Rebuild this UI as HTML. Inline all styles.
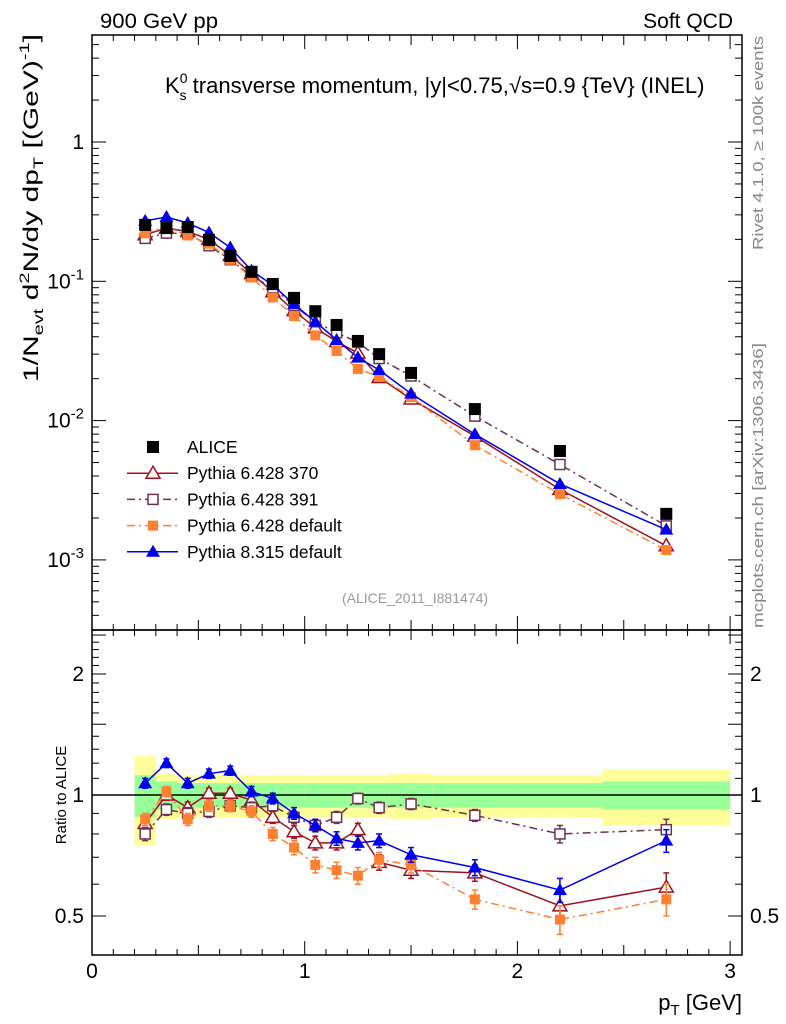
<!DOCTYPE html>
<html><head><meta charset="utf-8"><style>
body{margin:0;background:#fff}
svg{display:block;font-family:"Liberation Sans",sans-serif}
</style></head><body>
<svg id="c" width="786" height="1024" viewBox="0 0 786 1024">
<text x="100" y="28" font-size="21" textLength="118" lengthAdjust="spacingAndGlyphs">900 GeV pp</text>
<text x="733" y="28" font-size="21" text-anchor="end">Soft QCD</text>
<text x="165" y="93" font-size="22">K<tspan font-size="14" dy="-10">0</tspan><tspan font-size="14" dx="-8" dy="17">s</tspan><tspan dy="-7" textLength="518" lengthAdjust="spacingAndGlyphs"> transverse momentum, |y|&lt;0.75,√s=0.9 {TeV} (INEL)</tspan></text>
<text transform="translate(38,382) rotate(-90)" font-size="21" textLength="348" lengthAdjust="spacingAndGlyphs">1/N<tspan font-size="14" dy="5">evt</tspan><tspan dy="-5">  d</tspan><tspan font-size="14" dy="-9">2</tspan><tspan dy="9">N/dy dp</tspan><tspan font-size="14" dy="5">T</tspan><tspan dy="-5"> [(GeV)</tspan><tspan font-size="14" dy="-9">-1</tspan><tspan dy="9">]</tspan></text>
<text transform="translate(66,795) rotate(-90)" font-size="15" text-anchor="middle">Ratio to ALICE</text>
<text x="742" y="1010" font-size="22" text-anchor="end">p<tspan font-size="15" dy="5">T</tspan><tspan dy="-5"> [GeV]</tspan></text>
<text transform="translate(763,250) rotate(-90)" font-size="15" fill="#888" textLength="214" lengthAdjust="spacingAndGlyphs">Rivet 4.1.0, ≥ 100k events</text>
<text transform="translate(763,628) rotate(-90)" font-size="15" fill="#888" textLength="285" lengthAdjust="spacingAndGlyphs">mcplots.cern.ch [arXiv:1306.3436]</text>
<text x="415" y="603" font-size="14" fill="#999" text-anchor="middle">(ALICE_2011_I881474)</text>
<g id="g"></g>
</svg>
<script>
const xPts=[0.25,0.35,0.45,0.55,0.65,0.75,0.85,0.95,1.05,1.15,1.25,1.35,1.5,1.8,2.2,2.7];
const alice=[0.254,0.241,0.245,0.198,0.152,0.117,0.0957,0.076,0.061,0.0486,0.0373,0.030,0.022,0.0121,0.00605,0.00214];
const r370=[0.85,1.0,0.93,1.01,1.01,0.97,0.88,0.81,0.76,0.76,0.82,0.68,0.65,0.64,0.53,0.59];
const r391=[0.80,0.92,0.90,0.91,0.94,0.93,0.94,0.88,0.84,0.88,0.98,0.93,0.95,0.89,0.80,0.82];
const rDef6=[0.87,1.02,0.87,0.94,0.94,0.91,0.80,0.74,0.67,0.65,0.63,0.69,0.67,0.55,0.49,0.55];
const rP8=[1.07,1.20,1.07,1.13,1.15,1.02,0.98,0.90,0.84,0.78,0.76,0.77,0.71,0.66,0.58,0.77];
const binEdges=[0.2,0.3,0.4,0.5,0.6,0.7,0.8,0.9,1.0,1.1,1.2,1.3,1.4,1.6,2.0,2.4,3.0];
const bandYellow=[0.25,0.13,0.12,0.12,0.12,0.12,0.12,0.12,0.12,0.12,0.12,0.12,0.13,0.12,0.12,0.16];
const bandGreen=[0.12,0.08,0.07,0.07,0.07,0.07,0.07,0.07,0.07,0.07,0.07,0.07,0.07,0.07,0.07,0.08];
const ratioErr=[0.03,0.03,0.03,0.03,0.03,0.03,0.03,0.03,0.03,0.03,0.03,0.03,0.03,0.03,0.04,0.05];

const NS="http://www.w3.org/2000/svg";
const g=document.getElementById('g');
const L=92,R=742,T=35,M=630,B=955;
const sx=v=>L+v*212.7;
const sy=v=>142-Math.log10(v)*139.3;
const sr=v=>795-Math.log2(v)*121;
function el(t,a,p){const e=document.createElementNS(NS,t);for(const k in a)e.setAttribute(k,a[k]);(p||g).appendChild(e);return e;}

for(let i=0;i<bandYellow.length;i++){
  const x0=sx(binEdges[i]),x1=sx(binEdges[i+1]);
  const y=el('rect',{x:x0,y:sr(1+bandYellow[i]),width:x1-x0,height:sr(1-bandYellow[i])-sr(1+bandYellow[i]),fill:'#ffff99'});
  
  
  const gr=el('rect',{x:x0,y:sr(1+bandGreen[i]),width:x1-x0,height:sr(1-bandGreen[i])-sr(1+bandGreen[i]),fill:'#99ff99'});
  
  
}
const one=el('line',{x1:L,x2:R,y1:sr(1),y2:sr(1),stroke:'#000','stroke-width':1.5});



for(const [t,b,n] of [[T,M,'main-frame'],[M,B,'ratio-frame']]){
  const f=el('rect',{x:L,y:t,width:R-L,height:b-t,fill:'none',stroke:'#000','stroke-width':1.5});
  
  
}
for(let k=0;k<=30;k++){
  const v=k/10,x=sx(v);if(x>R)break;
  const len=k%10==0?14:(k%5==0?10:6);
  for(const [y0,dir] of [[T,1],[M,-1],[M,1],[B,-1]]) el('line',{x1:x,x2:x,y1:y0,y2:y0+dir*len,stroke:'#000'});
}
const xTicks=['0','1','2','3'];
xTicks.forEach((t,i)=>{const e=el('text',{x:sx(i),y:978,'font-size':21,'text-anchor':'middle'});e.textContent=t;

});
for(let d=-4;d<=0;d++){for(let m=1;m<10;m++){
  const v=m*Math.pow(10,d),y=sy(v);if(y<T||y>M)continue;
  const len=m==1?14:7;
  el('line',{x1:L,x2:L+len,y1:y,y2:y,stroke:'#000'});el('line',{x1:R,x2:R-len,y1:y,y2:y,stroke:'#000'});
}}
const yTicks=['10⁻³','10⁻²','10⁻¹','1'];
const yTickVals=[0.001,0.01,0.1,1];
yTicks.forEach((t,i)=>{const v=yTickVals[i];const e=el('text',{x:84,y:sy(v)+7,'font-size':21,'text-anchor':'end'});
if(v==1)e.textContent='1';else{e.innerHTML='10<tspan font-size="15" dy="-9">'+Math.log10(v)+'</tspan>';}

});
for(let k=4;k<=25;k++){const v=k/10,y=sr(v);if(y<M||y>B)continue;
  const len=(k%5==0)?14:7;
  el('line',{x1:L,x2:L+len,y1:y,y2:y,stroke:'#000'});el('line',{x1:R,x2:R-len,y1:y,y2:y,stroke:'#000'});}
const rTicks=['0.5','1','2'];const rTickVals=[0.5,1,2];
rTicks.forEach((t,i)=>{for(const [x,a] of [[84,'end'],[750,'start']]){const e=el('text',{x:x,y:sr(rTickVals[i])+7,'font-size':21,'text-anchor':a});e.textContent=t;

}});

function marker(type,x,y,col,p){
  if(type=='sq') return el('rect',{x:x-6,y:y-6,width:12,height:12,fill:'#000'},p);
  if(type=='osq') return el('rect',{x:x-5,y:y-5,width:10,height:10,fill:'#fff',stroke:col,'stroke-width':1.5},p);
  if(type=='fsq') return el('rect',{x:x-5,y:y-5,width:10,height:10,fill:col},p);
  if(type=='otri') return el('polygon',{points:`${x},${y-7} ${x-7},${y+5} ${x+7},${y+5}`,fill:'#fff',stroke:col,'stroke-width':1.5},p);
  return el('polygon',{points:`${x},${y-7} ${x-7},${y+5} ${x+7},${y+5}`,fill:col},p);
}
const series=[
 {name:'Pythia 6.428 370',r:r370,col:'#a01020',m:'otri',dash:'',key:'p6-370'},
 {name:'Pythia 6.428 391',r:r391,col:'#703050',m:'osq',dash:'8,4,2,4',key:'p6-391'},
 {name:'Pythia 6.428 default',r:rDef6,col:'#ff8030',m:'fsq',dash:'8,4,2,4',key:'p6-default'},
 {name:'Pythia 8.315 default',r:rP8,col:'#0000ee',m:'tri',dash:'',key:'p8-default'}];
series.forEach(s=>{
  const grp=el('g',{});
  
  
  const mp=xPts.map((x,i)=>sx(x)+','+sy(alice[i]*s.r[i])).join(' ');
  el('polyline',{points:mp,fill:'none',stroke:s.col,'stroke-width':1.5,'stroke-dasharray':s.dash},grp);
  const rp=xPts.map((x,i)=>sx(x)+','+sr(s.r[i])).join(' ');
  el('polyline',{points:rp,fill:'none',stroke:s.col,'stroke-width':1.5,'stroke-dasharray':s.dash},grp);
  xPts.forEach((x,i)=>{
    const X=sx(x);
    const e1=marker(s.m,X,sy(alice[i]*s.r[i]),s.col,grp);
    
    
    const yu=sr(s.r[i]+ratioErr[i]),yd=sr(s.r[i]-ratioErr[i]);
    el('line',{x1:X,x2:X,y1:yu,y2:yd,stroke:s.col,'stroke-width':1.5},grp);
    el('line',{x1:X-3,x2:X+3,y1:yu,y2:yu,stroke:s.col,'stroke-width':1.5},grp);
    el('line',{x1:X-3,x2:X+3,y1:yd,y2:yd,stroke:s.col,'stroke-width':1.5},grp);
    const e2=marker(s.m,X,sr(s.r[i]),s.col,grp);
    
    
  });
});
xPts.forEach((x,i)=>{const e=marker('sq',sx(x),sy(alice[i]),'#000');

});
const lg=el('g',{});


const legNames=['ALICE'].concat(series.map(s=>s.name));
legNames.forEach((n,i)=>{
  const y=447+i*26.2;
  const ent=el('g',{},lg);
  
  
  if(i==0) marker('sq',153,y,'#000',ent);
  else{const s=series[i-1];el('line',{x1:127,x2:178,y1:y,y2:y,stroke:s.col,'stroke-width':1.5,'stroke-dasharray':s.dash},ent);marker(s.m,153,y,s.col,ent);}
  const t=el('text',{x:187,y:y+6,'font-size':17.5},ent);t.textContent=n;
});
</script>
</body></html>
